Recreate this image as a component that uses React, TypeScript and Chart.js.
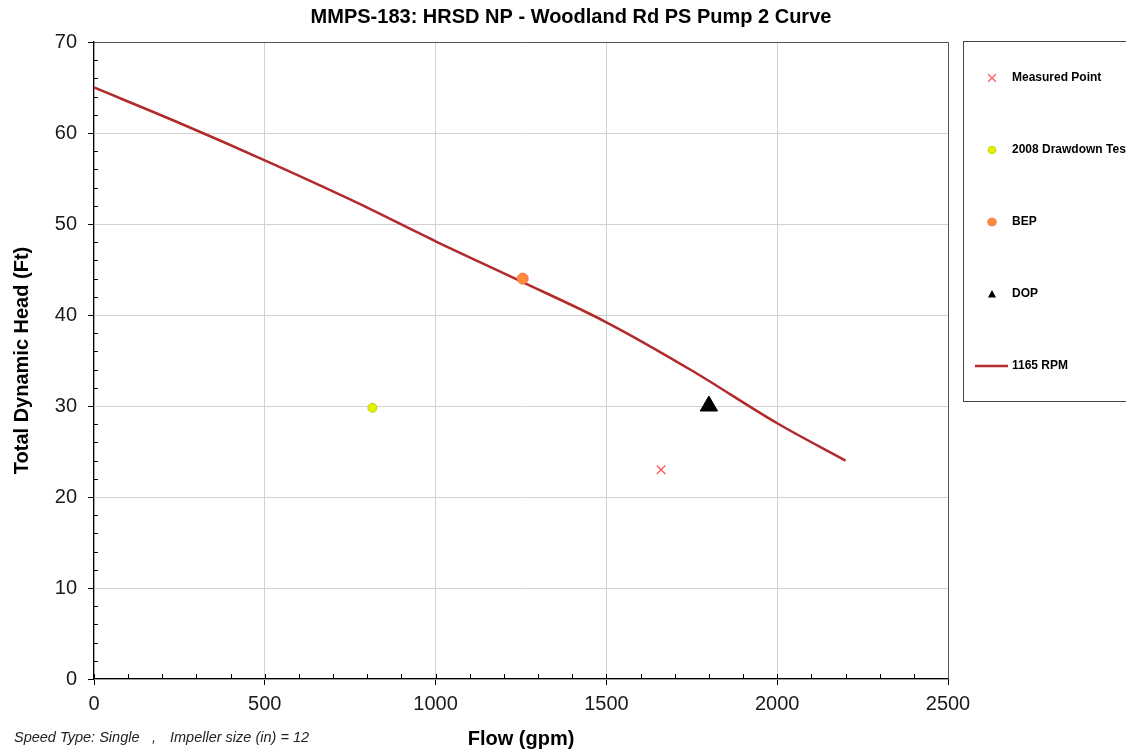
import React, { useEffect, useRef } from 'react';
import { Chart, registerables } from 'chart.js';

Chart.register(...registerables);

const TITLE = 'MMPS-183: HRSD NP - Woodland Rd PS Pump 2 Curve';
const X_TITLE = 'Flow (gpm)';
const Y_TITLE = 'Total Dynamic Head (Ft)';
const FOOTNOTE_PARTS = ['Speed Type: Single', ',', 'Impeller size (in) = 12'];

// Pump curve (1165 RPM)
const curveFlow = [0, 250, 500, 750, 1000, 1250, 1500, 1750, 2000, 2200];
const curveHead = [65, 61.1, 57, 52.7, 48.1, 43.7, 39.2, 33.9, 28.1, 24];

// Single points
const measuredFlow = [1660];
const measuredHead = [23];
const drawdownFlow = [815];
const drawdownHead = [29.8];
const bepFlow = [1255];
const bepHead = [44];
const dopFlow = [1800];
const dopHead = [30];

const legendLabels = ['Measured Point', '2008 Drawdown Test', 'BEP', 'DOP', '1165 RPM'];

const X_MIN = 0;
const X_MAX = 2500;
const X_STEP = 500;
const X_MINOR = 100;
const Y_MIN = 0;
const Y_MAX = 70;
const Y_STEP = 10;
const Y_MINOR = 2;

const FONT = '"Liberation Sans", Arial, Helvetica, sans-serif';

const COLORS = {
  measured: '#ff5a5a',
  drawdownFill: '#e8f000',
  drawdownBorder: '#b4d400',
  bepFill: '#ff8a3c',
  bepBorder: '#ff6e50',
  dop: '#000000',
  curve: '#b22a2a',
};

const toPts = (xs: number[], ys: number[]) => xs.map((x, i) => ({ x, y: ys[i] }));

function drawMarker(ctx: CanvasRenderingContext2D, kind: number, x: number, y: number) {
  ctx.save();
  if (kind === 0) {
    ctx.strokeStyle = COLORS.measured;
    ctx.lineWidth = 1.3;
    const r = 3.8;
    ctx.beginPath();
    ctx.moveTo(x - r, y - r);
    ctx.lineTo(x + r, y + r);
    ctx.moveTo(x + r, y - r);
    ctx.lineTo(x - r, y + r);
    ctx.stroke();
  } else if (kind === 1) {
    ctx.fillStyle = COLORS.drawdownFill;
    ctx.strokeStyle = COLORS.drawdownBorder;
    ctx.lineWidth = 1;
    ctx.beginPath();
    ctx.ellipse(x, y, 4, 3.5, 0, 0, Math.PI * 2);
    ctx.fill();
    ctx.stroke();
  } else if (kind === 2) {
    ctx.fillStyle = COLORS.bepFill;
    ctx.strokeStyle = COLORS.bepBorder;
    ctx.lineWidth = 1;
    ctx.beginPath();
    ctx.ellipse(x, y, 4.2, 3.8, 0, 0, Math.PI * 2);
    ctx.fill();
    ctx.stroke();
  } else if (kind === 3) {
    ctx.fillStyle = COLORS.dop;
    ctx.beginPath();
    ctx.moveTo(x, y - 4);
    ctx.lineTo(x + 4, y + 3.5);
    ctx.lineTo(x - 4, y + 3.5);
    ctx.closePath();
    ctx.fill();
  } else {
    ctx.strokeStyle = COLORS.curve;
    ctx.lineWidth = 2.5;
    ctx.beginPath();
    ctx.moveTo(975, y);
    ctx.lineTo(1008, y);
    ctx.stroke();
  }
  ctx.restore();
}

const decorPlugin = {
  id: 'decor',
  beforeDatasetsDraw(chart: any) {
    const { ctx, chartArea, scales } = chart;
    const xs = scales.x;
    const ys = scales.y;
    ctx.save();
    ctx.strokeStyle = '#000';
    ctx.lineWidth = 1;
    // x minor ticks (inward)
    for (let v = X_MIN; v <= X_MAX; v += X_MINOR) {
      const px = Math.round(xs.getPixelForValue(v)) + 0.5;
      ctx.beginPath();
      ctx.moveTo(px, chartArea.bottom);
      ctx.lineTo(px, chartArea.bottom - 5);
      ctx.stroke();
    }
    // y minor ticks (inward)
    for (let v = Y_MIN; v <= Y_MAX; v += Y_MINOR) {
      if (v % Y_STEP === 0) continue;
      const py = Math.round(ys.getPixelForValue(v)) + 0.5;
      ctx.beginPath();
      ctx.moveTo(chartArea.left, py);
      ctx.lineTo(chartArea.left + 4, py);
      ctx.stroke();
    }
    // frame top/right
    ctx.strokeStyle = '#555';
    ctx.beginPath();
    ctx.moveTo(chartArea.left, Math.round(chartArea.top) + 0.5);
    ctx.lineTo(Math.round(chartArea.right) + 0.5, Math.round(chartArea.top) + 0.5);
    ctx.lineTo(Math.round(chartArea.right) + 0.5, chartArea.bottom);
    ctx.stroke();
    ctx.restore();
  },
  afterDraw(chart: any) {
    const { ctx } = chart;
    ctx.save();
    // title
    ctx.fillStyle = '#000';
    ctx.font = `bold 20px ${FONT}`;
    ctx.textAlign = 'center';
    ctx.textBaseline = 'middle';
    ctx.fillText(TITLE, 571, 17);

    // footnote
    ctx.font = `italic 14.5px ${FONT}`;
    ctx.textAlign = 'left';
    ctx.textBaseline = 'alphabetic';
    ctx.fillStyle = '#222';
    ctx.fillText(FOOTNOTE_PARTS[0], 14, 742);
    ctx.fillText(FOOTNOTE_PARTS[1], 152, 742);
    ctx.fillText(FOOTNOTE_PARTS[2], 170, 742);

    // legend box
    ctx.strokeStyle = '#444';
    ctx.lineWidth = 1;
    ctx.strokeRect(963.5, 41.5, 200, 360);
    const rowsY = [78, 150, 222, 294, 366];
    ctx.font = `bold 12px ${FONT}`;
    ctx.fillStyle = '#000';
    ctx.textBaseline = 'middle';
    legendLabels.forEach((label, i) => {
      drawMarker(ctx, i, 992, rowsY[i]);
      ctx.fillStyle = '#000';
      ctx.fillText(label, 1012, rowsY[i]);
    });
    ctx.restore();
  },
};

export default function App() {
  const ref = useRef<HTMLCanvasElement>(null);

  useEffect(() => {
    const canvas = ref.current;
    if (!canvas) return;
    const chart = new Chart(canvas, {
      type: 'scatter',
      data: {
        datasets: [
          {
            label: legendLabels[0],
            data: toPts(measuredFlow, measuredHead),
            pointStyle: 'crossRot',
            pointRadius: 6,
            borderColor: COLORS.measured,
            backgroundColor: COLORS.measured,
            pointBorderWidth: 1.4,
          },
          {
            label: legendLabels[1],
            data: toPts(drawdownFlow, drawdownHead),
            pointStyle: 'circle',
            pointRadius: 4.5,
            backgroundColor: COLORS.drawdownFill,
            borderColor: COLORS.drawdownBorder,
            pointBorderWidth: 1,
          },
          {
            label: legendLabels[2],
            data: toPts(bepFlow, bepHead),
            pointStyle: 'circle',
            pointRadius: 5.5,
            backgroundColor: COLORS.bepFill,
            borderColor: COLORS.bepBorder,
            pointBorderWidth: 1,
          },
          {
            label: legendLabels[3],
            data: toPts(dopFlow, dopHead),
            pointStyle: 'triangle',
            pointRadius: 10,
            backgroundColor: COLORS.dop,
            borderColor: COLORS.dop,
            pointBorderWidth: 1,
          },
          {
            label: legendLabels[4],
            data: toPts(curveFlow, curveHead),
            showLine: true,
            pointRadius: 0,
            borderColor: COLORS.curve,
            backgroundColor: COLORS.curve,
            borderWidth: 2.5,
            cubicInterpolationMode: 'monotone',
          } as any,
        ],
      },
      options: {
        responsive: false,
        animation: false,
        events: [],
        layout: { padding: { top: 42, right: 178, left: 0, bottom: 0 } },
        plugins: {
          legend: { display: false },
          title: { display: false },
          tooltip: { enabled: false },
        },
        scales: {
          x: {
            type: 'linear',
            min: X_MIN,
            max: X_MAX,
            ticks: {
              stepSize: X_STEP,
              font: { family: FONT, size: 20 },
              color: '#1a1a1a',
              padding: 7,
              maxRotation: 0,
              callback: (v: any) => String(v),
            },
            grid: {
              color: '#d2d2d2',
              lineWidth: 1,
              tickLength: 6,
              tickColor: '#000',
              drawTicks: true,
            },
            border: { color: '#000', width: 1.2 },
            title: {
              display: true,
              text: X_TITLE,
              font: { family: FONT, size: 20, weight: 'bold' },
              color: '#000',
              padding: { top: 1, bottom: 1 },
            },
            afterFit: (s: any) => {
              s.height = 73;
            },
          },
          y: {
            type: 'linear',
            min: Y_MIN,
            max: Y_MAX,
            ticks: {
              stepSize: Y_STEP,
              font: { family: FONT, size: 20 },
              color: '#1a1a1a',
              padding: 11,
              callback: (v: any) => String(v),
            },
            grid: {
              color: '#d2d2d2',
              lineWidth: 1,
              tickLength: 6,
              tickColor: '#000',
              drawTicks: true,
            },
            border: { color: '#000', width: 1.2 },
            title: {
              display: true,
              text: Y_TITLE,
              font: { family: FONT, size: 20, weight: 'bold' },
              color: '#000',
              padding: { top: 10, bottom: 10 },
            },
            afterFit: (s: any) => {
              s.width = 94;
            },
          },
        },
      },
      plugins: [decorPlugin],
    });
    return () => chart.destroy();
  }, []);

  return (
    <canvas
      ref={ref}
      width={1126}
      height={752}
      style={{ position: 'absolute', left: 0, top: 0, display: 'block', width: 1126, height: 752 }}
    />
  );
}
